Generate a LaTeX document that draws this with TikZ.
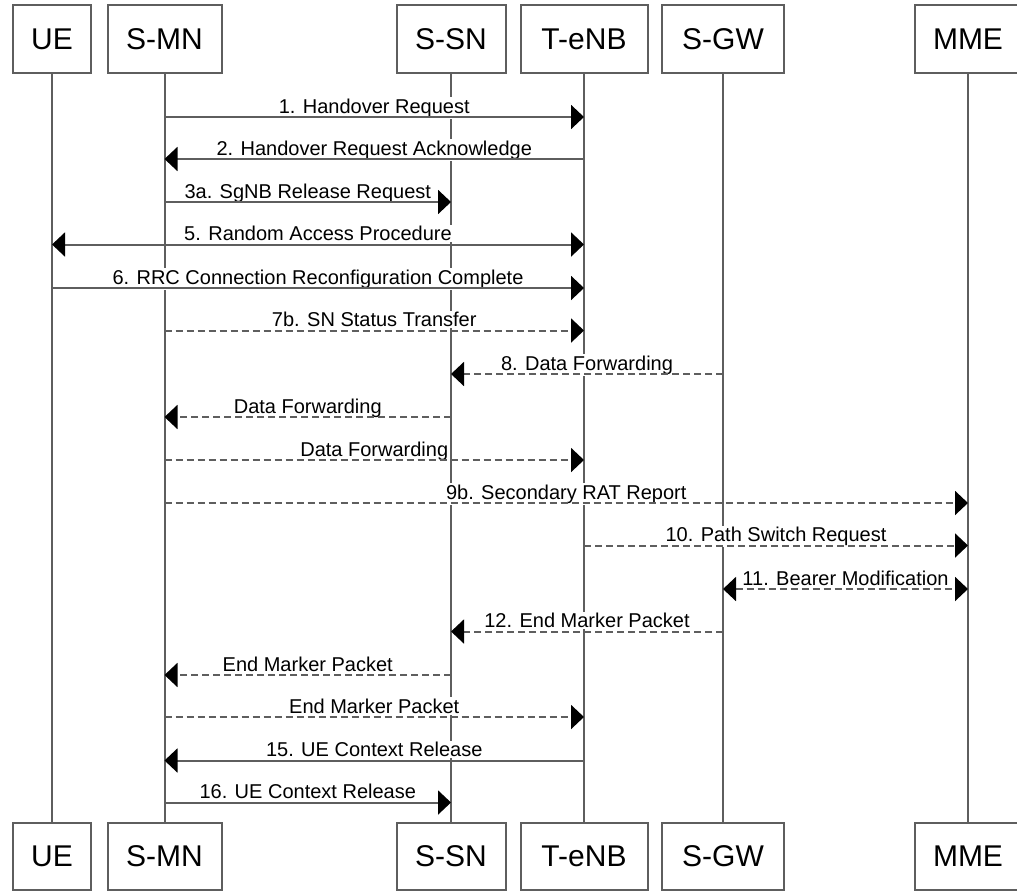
\documentclass[tikz,border=0pt]{standalone}
\usepackage{fontspec}
\setmainfont{Liberation Sans}
\usetikzlibrary{arrows.meta}
\begin{document}
\begin{tikzpicture}[x=1pt,y=-1pt,
  actor/.style={draw=black!63, line width=2pt, minimum height=68pt, inner sep=0pt,
    font=\fontsize{30}{32}\selectfont, fill=white},
  life/.style={draw=black!63, line width=2pt},
  lbl/.style={fill=white, inner sep=1.5pt, anchor=base, yshift=4pt,
    font=\fontsize{20}{22}\selectfont},
  tip/.tip={Triangle[length=13pt,width=24pt,color=black]},
  msg/.style={draw=black!63, line width=2pt, -tip},
  dmsg/.style={msg, dash pattern=on 7pt off 4pt},
  bmsg/.style={draw=black!63, line width=2pt, tip-tip},
  dbmsg/.style={bmsg, dash pattern=on 7pt off 4pt}]
\useasboundingbox (0,0) rectangle (1017,892);

% participants (top)
\node[actor, minimum width=78pt]  (ueT)   at (52,39)    {UE};
\node[actor, minimum width=114pt] (smnT)  at (164.5,39) {S-MN};
\node[actor, minimum width=109pt] (ssnT)  at (451,39)   {S-SN};
\node[actor, minimum width=127pt] (tenbT) at (584,39)   {T-eNB};
\node[actor, minimum width=122pt] (sgwT)  at (723,39)   {S-GW};
\node[actor, minimum width=106pt] (mmeT)  at (968,39)   {MME};
% participants (bottom)
\node[actor, minimum width=78pt, minimum height=67pt]  (ueB)   at (52,856.5)    {UE};
\node[actor, minimum width=114pt, minimum height=67pt] (smnB)  at (164.5,856.5) {S-MN};
\node[actor, minimum width=109pt, minimum height=67pt] (ssnB)  at (451,856.5)   {S-SN};
\node[actor, minimum width=127pt, minimum height=67pt] (tenbB) at (584,856.5)   {T-eNB};
\node[actor, minimum width=122pt, minimum height=67pt] (sgwB)  at (723,856.5)   {S-GW};
\node[actor, minimum width=106pt, minimum height=67pt] (mmeB)  at (968,856.5)   {MME};

% lifelines
\draw[life] (ueT) -- (ueB);
\draw[life] (smnT) -- (smnB);
\draw[life] (ssnT) -- (ssnB);
\draw[life] (tenbT) -- (tenbB);
\draw[life] (sgwT) -- (sgwB);
\draw[life] (mmeT) -- (mmeB);

% message rows
\coordinate (r1) at (0,117);
\coordinate (r2) at (0,159);
\coordinate (r3) at (0,202);
\coordinate (r4) at (0,244.5);
\coordinate (r5) at (0,288);
\coordinate (r6) at (0,330.5);
\coordinate (r7) at (0,374);
\coordinate (r8) at (0,417);
\coordinate (r9) at (0,460);
\coordinate (r10) at (0,503);
\coordinate (r11) at (0,545.5);
\coordinate (r12) at (0,589);
\coordinate (r13) at (0,631.5);
\coordinate (r14) at (0,675);
\coordinate (r15) at (0,717);
\coordinate (r16) at (0,760.5);
\coordinate (r17) at (0,802.5);

% labels (drawn first so the arrows lie on top)
\path (smnT |- r1) -- node[lbl] (l1) {1. Handover Request} (tenbT |- r1);
\path (tenbT |- r2) -- node[lbl] (l2) {2. Handover Request Acknowledge} (smnT |- r2);
\path (smnT |- r3) -- node[lbl] (l3) {3a. SgNB Release Request} (ssnT |- r3);
\path (ueT |- r4) -- node[lbl] (l4) {5. Random Access Procedure} (tenbT |- r4);
\path (ueT |- r5) -- node[lbl] (l5) {6. RRC Connection Reconfiguration Complete} (tenbT |- r5);
\path (smnT |- r6) -- node[lbl] (l6) {7b. SN Status Transfer} (tenbT |- r6);
\path (sgwT |- r7) -- node[lbl] (l7) {8. Data Forwarding} (ssnT |- r7);
\path (ssnT |- r8) -- node[lbl] (l8) {Data Forwarding} (smnT |- r8);
\path (smnT |- r9) -- node[lbl] (l9) {Data Forwarding} (tenbT |- r9);
\path (smnT |- r10) -- node[lbl] (l10) {9b. Secondary RAT Report} (mmeT |- r10);
\path (tenbT |- r11) -- node[lbl] (l11) {10. Path Switch Request} (mmeT |- r11);
\path (sgwT |- r12) -- node[lbl] (l12) {11. Bearer Modification} (mmeT |- r12);
\path (sgwT |- r13) -- node[lbl] (l13) {12. End Marker Packet} (ssnT |- r13);
\path (ssnT |- r14) -- node[lbl] (l14) {End Marker Packet} (smnT |- r14);
\path (smnT |- r15) -- node[lbl] (l15) {End Marker Packet} (tenbT |- r15);
\path (tenbT |- r16) -- node[lbl] (l16) {15. UE Context Release} (smnT |- r16);
\path (smnT |- r17) -- node[lbl] (l17) {16. UE Context Release} (ssnT |- r17);

% arrows
\draw[msg]   (smnT |- r1) -- (tenbT |- r1);
\draw[msg]   (tenbT |- r2) -- (smnT |- r2);
\draw[msg]   (smnT |- r3) -- (ssnT |- r3);
\draw[bmsg]  (ueT |- r4) -- (tenbT |- r4);
\draw[msg]   (ueT |- r5) -- (tenbT |- r5);
\draw[dmsg]  (smnT |- r6) -- (tenbT |- r6);
\draw[dmsg]  (sgwT |- r7) -- (ssnT |- r7);
\draw[dmsg]  (ssnT |- r8) -- (smnT |- r8);
\draw[dmsg]  (smnT |- r9) -- (tenbT |- r9);
\draw[dmsg]  (smnT |- r10) -- (mmeT |- r10);
\draw[dmsg]  (tenbT |- r11) -- (mmeT |- r11);
\draw[dbmsg] (sgwT |- r12) -- (mmeT |- r12);
\draw[dmsg]  (sgwT |- r13) -- (ssnT |- r13);
\draw[dmsg]  (ssnT |- r14) -- (smnT |- r14);
\draw[dmsg]  (smnT |- r15) -- (tenbT |- r15);
\draw[msg]   (tenbT |- r16) -- (smnT |- r16);
\draw[msg]   (smnT |- r17) -- (ssnT |- r17);
\end{tikzpicture}
\end{document}
